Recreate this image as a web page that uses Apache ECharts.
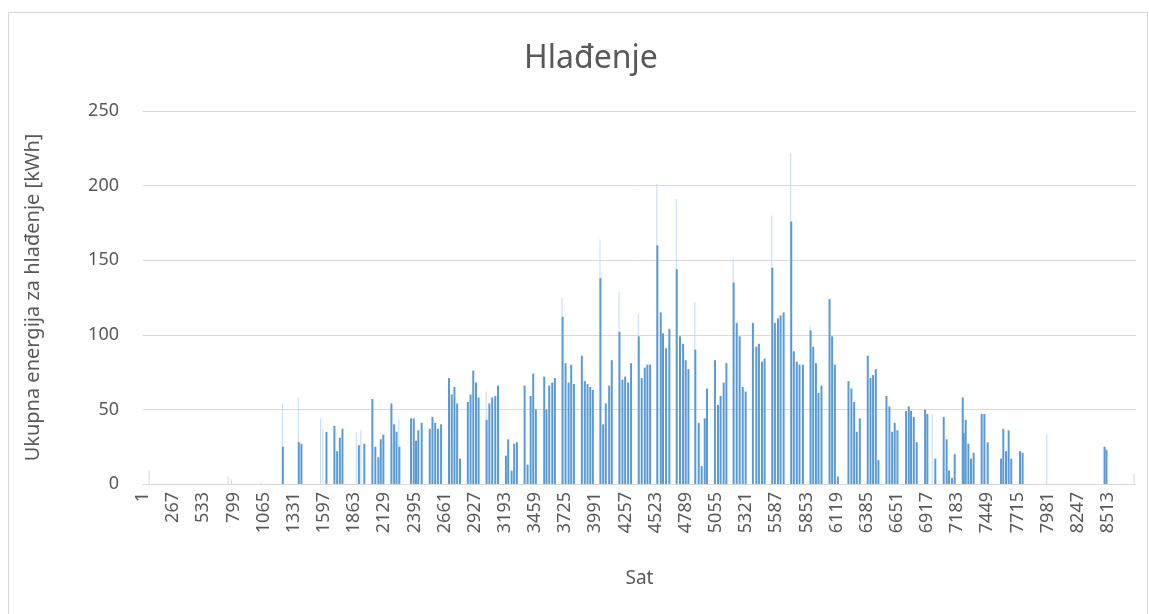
<!DOCTYPE html>
<html>
<head>
<meta charset="utf-8">
<script src="https://cdn.jsdelivr.net/npm/echarts@6/dist/echarts.min.js"></script>
<style>
  html, body { margin: 0; padding: 0; background: #fff; }
  .frame { position: absolute; left: 8px; top: 12px; width: 1140px; height: 610px; border: 1px solid #d9d9d9; box-sizing: border-box; }
  #chart { position: absolute; left: 0; top: 0; width: 1149px; height: 614px; }
</style>
</head>
<body>
<div class="frame"></div>
<div id="chart"></div>
<script>
// hours of the year with a daily cooling bar, and the value read for that day
const dayHours = [
  1234, 1375, 1398, 1619,
  1689, 1713, 1737, 1760,
  1905, 1953,
  2024, 2050, 2077, 2098, 2121,
  2192, 2216, 2237, 2262,
  2365, 2389, 2409, 2429, 2459,
  2530, 2554, 2578, 2602, 2630,
  2700, 2724, 2748, 2772, 2797,
  2866, 2890, 2914, 2938, 2961,
  3032, 3056, 3081, 3108, 3132,
  3202, 3222, 3252, 3275, 3299,
  3367, 3393, 3420, 3443, 3466,
  3540, 3560, 3584, 3611, 3634,
  3702, 3728, 3755, 3778, 3802,
  3872, 3898, 3922, 3946, 3969,
  4036, 4060, 4083, 4113, 4136,
  4204, 4230, 4254, 4280, 4306,
  4374, 4400, 4427, 4450, 4474,
  4538, 4568, 4588, 4615, 4644,
  4709, 4738, 4765, 4788, 4812,
  4873, 4903, 4929, 4956, 4976,
  5046, 5073, 5096, 5123, 5147,
  5211, 5238, 5264, 5291, 5317,
  5381, 5411, 5434, 5461, 5484,
  5552, 5575, 5602, 5625, 5652,
  5719, 5742, 5768, 5792, 5822,
  5890, 5913, 5937, 5960, 5986,
  6057, 6080, 6104, 6130,
  6224, 6250, 6274, 6297, 6324,
  6394, 6418, 6441, 6465, 6488,
  6559, 6585, 6609, 6632, 6656,
  6732, 6756, 6776, 6800, 6826,
  6900, 6920, 6990,
  7064, 7090, 7111, 7137, 7161,
  7232, 7241, 7258, 7282, 7305, 7328,
  7399, 7423, 7452,
  7570, 7590, 7614, 7637, 7660,
  7737, 7760,
  8483, 8500
];
const dayValues = [
  25, 28, 27, 35,
  39, 22, 31, 37,
  26, 27,
  57, 25, 18, 30, 33,
  54, 40, 35, 25,
  44, 44, 29, 36, 41,
  37, 45, 41, 37, 40,
  71, 60, 65, 54, 17,
  55, 60, 76, 68, 58,
  43, 54, 58, 59, 66,
  19, 30, 9, 27, 28,
  66, 13, 59, 74, 50,
  72, 50, 66, 68, 71,
  112, 81, 68, 80, 67,
  86, 69, 67, 65, 63,
  138, 40, 54, 66, 83,
  102, 70, 72, 68, 81,
  99, 71, 78, 80, 80,
  160, 115, 101, 91, 104,
  144, 99, 94, 83, 77,
  90, 41, 12, 44, 64,
  83, 53, 59, 68, 81,
  135, 108, 99, 65, 62,
  108, 92, 94, 82, 84,
  145, 108, 111, 113, 115,
  176, 89, 82, 80, 80,
  103, 92, 81, 61, 66,
  124, 99, 80, 5,
  69, 64, 55, 35, 44,
  86, 71, 73, 77, 16,
  59, 52, 35, 41, 36,
  49, 52, 49, 45, 28,
  50, 47, 17,
  45, 30, 9, 4, 20,
  58, 34, 43, 27, 17, 21,
  47, 47, 28,
  17, 37, 22, 36, 17,
  22, 21,
  25, 23
];
// single-hour peaks that show as faint tips above the daily bars
const spikeHours = [59, 755, 785, 1046, 1234, 1375, 1572, 1592, 1886, 1927, 2262, 3032, 3702, 4036, 4204, 4374, 4538, 4709, 4873, 5211, 5552, 5719, 5890, 6967, 7978, 8747];
const spikeValues = [9, 5, 3, 1, 54, 58, 44, 37, 35, 36, 43, 62, 125, 164, 129, 114, 201, 191, 122, 151, 180, 222, 106, 47, 33, 7];

const hourCount = 8760;
const yTicks = [0, 50, 100, 150, 200, 250];

let categories = [];
for (let i = 1; i <= hourCount; i++) categories.push(String(i));

let dayData = new Array(hourCount).fill('-');
dayHours.forEach((h, i) => { dayData[h - 1] = dayValues[i] });
let spikeData = new Array(hourCount).fill('-');
spikeHours.forEach((h, i) => { spikeData[h - 1] = spikeValues[i] });

const textColor = '#595959';
const font = 'Noto Sans';

let chart = echarts.init(document.getElementById('chart'));
let option = {
    animation: false,
    title: {
        text: 'Hlađenje',
        left: 519,
        top: 38,
        textStyle: { color: textColor, fontFamily: font, fontSize: 32, fontWeight: 'normal' }
    },
    grid: { left: 143, right: 13, top: 111, bottom: 130 },
    xAxis: {
        type: 'category',
        data: categories,
        name: 'Sat',
        nameLocation: 'middle',
        nameGap: 85,
        nameTextStyle: { color: textColor, fontFamily: font, fontSize: 19 },
        axisLine: { show: true, lineStyle: { color: '#d9d9d9', width: 1 } },
        axisTick: { show: false },
        axisLabel: {
            interval: 265,
            rotate: 90,
            margin: 8,
            color: textColor,
            fontFamily: font,
            fontSize: 18
        }
    },
    yAxis: {
        type: 'value',
        min: yTicks[0],
        max: yTicks[yTicks.length - 1],
        interval: 50,
        name: 'Ukupna energija za hlađenje [kWh]',
        nameLocation: 'middle',
        nameGap: 100,
        nameTextStyle: { color: textColor, fontFamily: font, fontSize: 20 },
        axisLine: { show: false },
        axisTick: { show: false },
        axisLabel: { color: textColor, fontFamily: font, fontSize: 18, margin: 24 },
        splitLine: { lineStyle: { color: '#d9d9d9', width: 1 } }
    },
    series: [
        {
            type: 'bar',
            name: 'peaks',
            data: spikeData,
            barWidth: 1,
            barGap: '-100%',
            z: 1,
            itemStyle: { color: '#c3daf0' }
        },
        {
            type: 'bar',
            name: 'days',
            data: dayData,
            barWidth: 2,
            z: 2,
            itemStyle: { color: '#5b9bd5' }
        }
    ]
};
chart.setOption(option, true);
</script>
</body>
</html>
